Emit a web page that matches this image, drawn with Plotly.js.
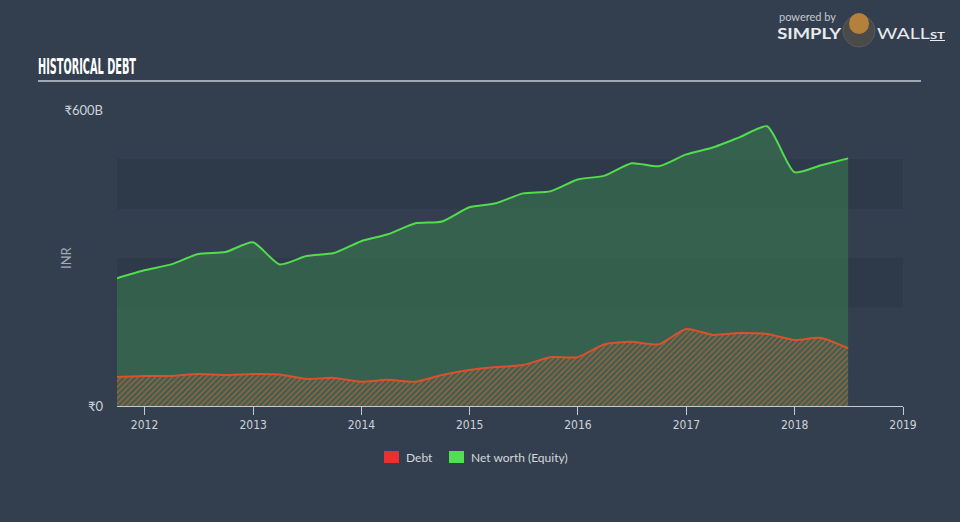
<!DOCTYPE html>
<html>
<head>
<meta charset="utf-8">
<script src="https://cdn.plot.ly/plotly-3.0.1.min.js"></script>
<style>
html,body{margin:0;padding:0;background:#333f4f;}
#chart{width:960px;height:522px;}
</style>
</head>
<body>
<div id="chart"></div>
<script>
// ---- data (INR billions, quarterly) ----
var dates = ["2011-09-30","2011-12-31","2012-03-31","2012-06-30","2012-09-30","2012-12-31",
  "2013-03-31","2013-06-30","2013-09-30","2013-12-31","2014-03-31","2014-06-30","2014-09-30",
  "2014-12-31","2015-03-31","2015-06-30","2015-09-30","2015-12-31","2016-03-31","2016-06-30",
  "2016-09-30","2016-12-31","2017-03-31","2017-06-30","2017-09-30","2017-12-31","2018-03-31","2018-06-30"];
var netWorth = [259,275,287,308,312,332,287,304,310,334,348,370,374,403,411,431,435,459,467,492,486,510,524,545,567,474,488,502];
var debt = [59,61,61,65,63,65,64,55,57,49,53,49,63,73,79,83,99,99,125,130,125,156,144,148,146,134,138,117];
var seriesNames = ["Debt", "Net worth (Equity)"];
var seriesColors = ["#e8302c", "#4ee04e"];
var yTickVals = [0, 600];
var yTickText = ["\u20b90", "\u20b9600B"];
var xTickVals = ["2012-01-01","2013-01-01","2014-01-01","2015-01-01","2016-01-01","2017-01-01","2018-01-01","2019-01-01"];
var xTickText = ["2012","2013","2014","2015","2016","2017","2018","2019"];

var narrow = "Liberation Sans Narrow, DejaVu Sans Condensed, Roboto, sans-serif";
var sans = "Lato, Roboto, sans-serif";

var traces = [
  {
    x: dates, y: netWorth, type: "scatter", mode: "lines",
    line: {color: "#52dc4e", width: 2, shape: "spline", smoothing: 0.6},
    fill: "tozeroy", fillcolor: "rgba(58,120,80,0.6)",
    showlegend: false, hoverinfo: "skip"
  },
  {
    x: dates, y: debt, type: "scatter", mode: "lines",
    line: {color: "#dc502c", width: 2, shape: "spline", smoothing: 0.6},
    fill: "tozeroy", fillcolor: "rgba(0,0,0,0)",
    fillpattern: {shape: "/", fgcolor: "rgba(190,95,60,0.75)", bgcolor: "rgba(0,0,0,0)", size: 4, solidity: 0.4},
    showlegend: false, hoverinfo: "skip"
  }
];

var W = 786, H = 296; // plot area size
function px(x){ return (x - 117) / W; }
function py(y){ return (406 - y) / H; }

var shapes = [
  {type: "rect", xref: "paper", yref: "y", x0: 0, x1: 1, y0: 400, y1: 500, fillcolor: "#2e3a4a", line: {width: 0}, layer: "below"},
  {type: "rect", xref: "paper", yref: "y", x0: 0, x1: 1, y0: 200, y1: 300, fillcolor: "#2e3a4a", line: {width: 0}, layer: "below"},
  {type: "line", xref: "paper", yref: "paper", x0: px(38), x1: px(921), y0: py(81), y1: py(81), line: {color: "#a0a8b2", width: 2}},
  // logo
  {type: "circle", xref: "paper", yref: "paper", x0: px(843), x1: px(875), y0: py(47), y1: py(15), fillcolor: "#4a4a4a", line: {color: "#5a5a5a", width: 1}},
  {type: "circle", xref: "paper", yref: "paper", x0: px(849), x1: px(869), y0: py(34), y1: py(13), fillcolor: "#b5803a", line: {width: 0}},
  // legend swatches
  {type: "rect", xref: "paper", yref: "paper", x0: px(384), x1: px(399), y0: py(463), y1: py(451), fillcolor: seriesColors[0], line: {width: 0}},
  {type: "rect", xref: "paper", yref: "paper", x0: px(449), x1: px(464), y0: py(463), y1: py(451), fillcolor: seriesColors[1], line: {width: 0}}
];

var layout = {
  width: 960, height: 522,
  margin: {l: 117, r: 57, t: 110, b: 116},
  paper_bgcolor: "#333f4f",
  plot_bgcolor: "rgba(0,0,0,0)",
  showlegend: false,
  hovermode: false,
  xaxis: {
    type: "date",
    range: ["2011-09-30", "2019-01-01"],
    tickmode: "array", tickvals: xTickVals, ticktext: xTickText,
    showgrid: false, zeroline: false,
    showline: true, linecolor: "#c5cad0", linewidth: 1,
    ticks: "outside", ticklen: 8, tickcolor: "#c5cad0", tickwidth: 1,
    tickfont: {family: narrow, size: 12, color: "#cdd2d8"},
    fixedrange: true
  },
  yaxis: {
    range: [0, 600],
    tickmode: "array", tickvals: yTickVals, ticktext: yTickText,
    showgrid: false, zeroline: false, showline: false, ticks: "",
    ticklabelstandoff: 13,
    tickfont: {family: sans, size: 13, color: "#cdd2d8"},
    fixedrange: true
  },
  shapes: shapes,
  annotations: [
    {text: "<b>HISTORICAL DEBT</b>", xref: "paper", yref: "paper", x: px(87), y: py(67), xanchor: "center", yanchor: "middle",
     showarrow: false, font: {family: narrow, size: 21, color: "#ffffff"}},
    {text: "INR", xref: "paper", yref: "paper", x: px(66), y: py(258), xanchor: "center", yanchor: "middle",
     textangle: -90, showarrow: false, font: {family: sans, size: 13, color: "#a3aab3"}},
    {text: "powered by", xref: "paper", yref: "paper", x: px(777), y: py(16), xanchor: "left", yanchor: "middle",
     showarrow: false, font: {family: sans, size: 11, color: "#c3c8ce"}},
    {text: "<b>SIMPLY</b>", xref: "paper", yref: "paper", x: px(809), y: py(33), xanchor: "center", yanchor: "middle",
     showarrow: false, font: {family: sans, size: 15, color: "#e8eaed"}},
    {text: "WALL<span style='font-size:10px'><b><u>ST</u></b></span>", xref: "paper", yref: "paper", x: px(911), y: py(33), xanchor: "center", yanchor: "middle",
     showarrow: false, font: {family: sans, size: 15, color: "#e8eaed"}},
    {text: seriesNames[0], xref: "paper", yref: "paper", x: px(404), y: py(457), xanchor: "left", yanchor: "middle",
     showarrow: false, font: {family: sans, size: 12, color: "#d4d8dd"}},
    {text: seriesNames[1], xref: "paper", yref: "paper", x: px(469), y: py(457), xanchor: "left", yanchor: "middle",
     showarrow: false, font: {family: sans, size: 12, color: "#d4d8dd"}}
  ]
};

Plotly.newPlot("chart", traces, layout, {displayModeBar: false, staticPlot: true}).then(function(gd){
  var fits = {"HISTORICAL DEBT": 98, "SIMPLY": 64, "WALLST": 68};
  var texts = gd.querySelectorAll("text.annotation-text");
  texts.forEach(function(t){
    var w = fits[t.textContent];
    if (w) {
      t.setAttribute("textLength", w);
      t.setAttribute("lengthAdjust", "spacingAndGlyphs");
    }
  });
});
</script>
</body>
</html>
